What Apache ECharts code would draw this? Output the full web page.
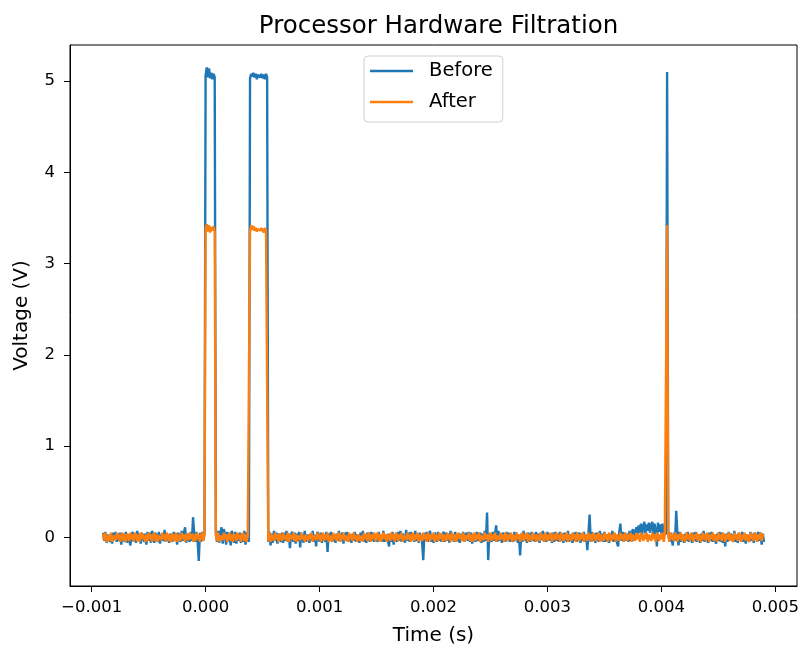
<!DOCTYPE html>
<html>
<head>
<meta charset="utf-8">
<script src="https://cdn.jsdelivr.net/npm/echarts@6/dist/echarts.min.js"></script>
<style>
  html, body { margin: 0; padding: 0; background: #fff; }
  #chart { width: 804px; height: 650px; }
</style>
</head>
<body>
<div id="chart"></div>
<script>
// Scope capture: one sample every 10 µs starting at -0.9 ms
const timeStart = -0.0009;
const samplePeriod = 0.00001;

// Raw signal (V), 20 samples per row
const beforeVolts = [
  0.05,-0.04,0.06,-0.06,0.03,0.05,-0.05,0.04,-0.07,0.05,-0.03,0.06,-0.05,0.04,-0.04,0.05,-0.08,0.04,0.03,-0.05,
  0.06,-0.06,0.03,0.05,-0.09,0.02,0.06,-0.05,0.04,-0.06,0.07,-0.03,0.04,-0.07,0.05,0.03,-0.05,0.04,-0.08,0.06,
  -0.04,0.05,-0.06,0.07,0.02,-0.06,0.05,0.04,-0.05,0.06,-0.07,0.03,0.05,-0.04,0.08,-0.05,0.03,0.05,-0.06,0.04,
  0.05,-0.05,0.06,-0.03,0.04,-0.08,0.05,0.03,-0.05,0.07,-0.04,0.05,0.11,-0.06,0.04,0.05,-0.05,0.06,-0.04,0.22,
  0.03,-0.05,0.06,-0.04,-0.26,0.05,-0.05,0.06,-0.03,0.04,5.06,5.15,5.04,5.14,5.03,5.09,5.02,5.08,5.04,0.05,
  -0.05,0.07,-0.06,0.05,0.11,-0.07,0.09,0.03,-0.08,0.06,-0.05,0.05,-0.09,0.07,0.02,-0.06,0.06,-0.07,0.04,-0.04,
  0.05,-0.06,0.04,-0.05,0.07,-0.08,0.05,0.03,-0.05,5.03,5.08,5.05,5.09,5.04,5.08,5.02,5.07,5.09,5.04,5.08,
  5.03,5.07,5.02,5.08,5.04,-0.05,0.06,-0.09,0.04,-0.06,0.07,-0.04,0.05,-0.07,0.04,0.06,-0.05,0.05,-0.06,0.05,
  -0.04,0.07,-0.05,0.04,-0.12,0.03,0.06,-0.05,0.05,-0.07,0.04,-0.04,0.06,-0.11,0.05,0.03,-0.06,0.07,-0.05,0.03,
  0.05,-0.06,0.04,-0.04,0.07,-0.05,0.03,-0.10,0.06,0.02,-0.05,0.05,-0.06,0.04,0.03,-0.05,0.06,-0.16,0.04,-0.04,
  0.06,-0.05,0.03,0.05,-0.06,0.04,-0.04,0.07,-0.05,0.02,0.05,-0.07,0.05,-0.04,0.06,-0.05,0.03,0.05,-0.06,0.04,
  -0.04,0.06,-0.05,0.03,0.05,-0.06,0.05,-0.03,0.07,-0.05,0.03,-0.06,0.05,0.02,-0.05,0.06,-0.04,0.05,-0.05,0.03,
  0.05,-0.05,0.06,-0.04,0.02,-0.05,0.07,-0.05,0.03,0.05,-0.04,-0.10,0.04,-0.05,0.06,-0.08,0.03,0.05,-0.05,0.06,
  -0.04,0.07,-0.05,0.04,0.02,-0.06,0.08,-0.04,0.05,-0.05,0.06,-0.03,0.04,-0.05,0.07,-0.04,0.03,-0.06,0.05,0.04,
  -0.05,-0.25,0.05,-0.04,0.06,-0.05,0.04,0.07,-0.05,0.03,-0.06,0.05,0.02,-0.05,0.06,-0.04,0.04,-0.05,0.03,0.06,
  -0.05,0.05,-0.04,0.04,-0.06,0.07,-0.03,0.03,-0.05,0.06,-0.05,0.03,0.05,-0.06,0.04,-0.04,0.06,-0.05,0.02,0.05,
  -0.04,0.06,-0.05,0.05,-0.07,0.03,0.04,-0.05,0.06,-0.04,0.02,0.05,-0.06,0.04,-0.05,0.07,-0.04,0.27,-0.25,0.04,
  0.05,-0.05,0.06,-0.04,0.04,0.13,-0.05,0.07,-0.04,0.04,-0.06,0.05,0.02,-0.05,0.06,-0.04,0.05,-0.05,0.03,0.04,
  -0.05,0.06,-0.04,0.05,-0.06,0.03,-0.20,0.04,-0.05,0.07,-0.04,0.04,-0.06,0.05,0.02,-0.05,0.06,-0.04,0.04,-0.05,
  0.06,-0.04,0.04,-0.06,0.05,-0.03,0.07,-0.05,0.03,-0.05,0.06,-0.04,0.04,0.02,-0.06,0.05,-0.05,0.06,-0.04,0.04,
  -0.05,0.06,-0.04,0.04,-0.06,0.05,0.03,-0.05,0.07,-0.05,0.03,0.04,-0.06,0.05,-0.04,0.06,-0.05,0.02,0.05,-0.06,
  0.04,-0.04,0.06,-0.05,0.03,-0.14,0.05,0.25,-0.05,0.06,-0.04,0.04,-0.06,0.05,0.02,-0.05,0.07,-0.04,0.04,-0.05,
  0.06,-0.05,0.03,0.05,-0.06,0.04,-0.04,0.07,-0.05,0.03,0.04,-0.06,-0.10,0.05,0.15,-0.04,0.06,-0.05,0.05,-0.04,
  0.04,-0.05,0.07,-0.04,0.05,0.09,-0.04,0.06,0.11,0.03,0.13,0.05,0.15,0.02,0.12,0.17,0.04,0.14,0.07,0.16,
  0.05,0.13,0.17,0.03,0.15,0.08,-0.10,0.16,0.06,0.14,0.04,0.15,0.02,0.06,0.03,5.10,0.06,-0.05,0.05,0.03,
  -0.09,0.05,-0.04,0.29,0.04,-0.09,0.06,-0.05,0.03,0.05,-0.06,0.04,-0.04,0.06,-0.05,0.03,0.04,-0.06,0.05,-0.04,
  0.06,-0.05,0.03,0.05,-0.06,0.04,-0.04,0.07,-0.05,0.02,0.04,-0.06,0.05,-0.04,0.06,-0.05,0.03,0.05,-0.07,0.04,
  -0.04,0.06,-0.05,0.05,-0.06,0.03,-0.10,0.04,-0.05,0.06,-0.04,0.04,0.02,-0.05,0.07,-0.05,0.03,-0.06,0.05,0.04,
  -0.04,0.06,-0.05,0.04,-0.07,0.03,0.05,-0.05,0.06,-0.04,0.04,-0.06,0.05,0.02,-0.05,0.06,-0.04,0.05,-0.08,0.04,
  -0.05
];

// Filtered signal (V), same time base
const afterVolts = [
  0.04,-0.03,0.05,-0.05,0.02,0.04,-0.04,0.05,-0.05,0.02,0.04,-0.03,0.05,-0.02,0.03,-0.05,0.02,0.05,-0.04,0.03,
  -0.05,0.04,0.02,-0.04,0.05,-0.02,0.03,-0.05,0.05,0.02,-0.04,0.03,-0.05,0.05,-0.02,0.04,0.02,-0.05,0.03,-0.04,
  0.05,-0.02,0.03,-0.05,0.02,0.05,-0.04,0.03,-0.05,0.02,0.04,-0.03,0.05,-0.02,0.03,-0.05,0.05,0.02,-0.04,0.03,
  -0.05,0.04,0.02,-0.04,0.05,-0.05,0.03,0.02,-0.04,0.05,-0.02,0.03,-0.05,0.04,0.02,-0.03,0.05,-0.02,0.04,-0.05,
  0.03,-0.04,0.05,-0.02,0.03,-0.05,0.02,0.05,-0.04,0.03,3.37,3.43,3.35,3.42,3.34,3.40,3.36,3.41,3.35,0.03,
  -0.04,0.05,-0.05,0.02,0.04,-0.03,0.05,-0.02,0.03,-0.05,0.02,0.05,-0.04,0.03,-0.05,0.04,0.02,-0.04,0.05,-0.02,
  0.03,-0.05,0.02,0.05,-0.04,0.03,-0.05,0.02,0.04,3.35,3.42,3.37,3.41,3.36,3.39,3.35,3.38,3.40,3.36,3.39,
  3.37,3.34,3.39,3.36,3.34,-0.04,0.05,-0.05,0.03,0.02,-0.04,0.05,-0.02,0.03,-0.05,0.04,0.02,-0.04,0.05,-0.02,
  0.02,-0.04,0.05,-0.05,0.03,0.02,-0.02,0.05,-0.04,0.03,-0.05,0.02,0.04,-0.03,0.05,-0.02,0.02,-0.05,0.03,0.05,
  -0.04,0.03,-0.02,0.05,-0.05,0.02,0.04,-0.03,0.05,-0.02,0.03,-0.05,0.02,0.05,-0.04,0.03,-0.02,0.05,-0.05,0.02,
  0.04,-0.05,0.05,-0.02,0.03,-0.04,0.02,0.05,-0.05,0.03,-0.02,0.05,-0.04,0.02,0.04,-0.05,0.05,-0.02,0.03,-0.04,
  0.05,-0.02,0.02,-0.05,0.03,0.05,-0.04,0.02,-0.05,0.05,-0.02,0.03,-0.04,0.05,0.02,-0.05,0.03,-0.02,0.05,-0.04,
  0.02,0.05,-0.04,0.03,-0.05,0.02,0.05,-0.02,0.03,-0.05,0.04,0.02,-0.04,0.05,-0.02,0.03,-0.05,0.05,0.02,-0.04,
  0.03,-0.02,0.05,-0.05,0.02,0.04,-0.03,0.05,-0.02,0.03,-0.05,0.02,0.05,-0.04,0.03,-0.02,0.05,-0.05,0.03,0.02,
  -0.04,0.05,-0.02,0.03,-0.05,0.05,0.02,-0.04,0.03,-0.02,0.05,-0.05,0.03,0.02,-0.04,0.05,-0.02,0.04,-0.05,0.03,
  0.02,-0.04,0.05,-0.02,0.03,-0.05,0.05,0.02,-0.04,0.03,-0.05,0.02,0.05,-0.02,0.03,-0.04,0.05,-0.05,0.02,0.04,
  -0.02,0.05,-0.04,0.03,-0.05,0.02,0.05,-0.04,0.03,-0.02,0.05,-0.05,0.02,0.04,-0.03,0.05,-0.02,0.03,-0.05,0.02,
  0.05,-0.04,0.03,-0.02,0.05,-0.05,0.02,0.04,-0.03,0.05,-0.02,0.03,-0.05,0.05,0.02,-0.04,0.03,-0.02,0.05,-0.05,
  0.03,0.02,-0.04,0.05,-0.02,0.03,-0.05,0.02,0.05,-0.04,0.03,-0.02,0.05,-0.05,0.03,0.02,-0.04,0.05,-0.02,0.03,
  -0.05,0.03,0.02,-0.04,0.05,-0.02,0.03,-0.05,0.05,0.02,-0.04,0.03,-0.02,0.05,-0.05,0.04,0.02,-0.03,0.05,-0.02,
  0.03,-0.05,0.05,0.02,-0.04,0.03,-0.02,0.05,-0.05,0.03,0.02,-0.04,0.05,-0.02,0.03,-0.05,0.05,0.02,-0.04,0.03,
  -0.02,0.05,-0.05,0.03,0.02,-0.04,0.05,-0.02,0.03,-0.05,0.05,0.02,-0.04,0.03,-0.02,0.05,-0.05,0.03,0.02,-0.04,
  0.05,-0.02,0.03,-0.05,0.05,0.02,-0.04,0.03,-0.02,0.05,-0.05,0.03,0.02,-0.04,0.05,-0.02,0.03,-0.05,0.05,0.02,
  -0.04,0.03,-0.02,0.05,-0.05,0.03,0.02,-0.04,0.05,-0.02,0.03,-0.05,0.05,0.02,-0.04,0.03,-0.02,0.05,-0.05,0.03,
  0.02,-0.04,0.05,-0.02,0.03,-0.05,0.05,0.02,-0.04,0.03,-0.02,0.05,-0.05,0.03,0.02,3.42,0.03,-0.05,0.05,-0.02,
  0.03,-0.04,0.05,0.02,-0.05,0.03,-0.02,0.05,-0.04,0.03,0.02,-0.05,0.05,-0.02,0.03,-0.04,0.05,0.02,-0.05,0.03,
  -0.02,0.05,-0.04,0.03,0.02,-0.05,0.05,-0.02,0.03,-0.04,0.05,0.02,-0.05,0.03,-0.02,0.05,-0.04,0.03,0.02,-0.05,
  0.05,-0.02,0.03,-0.04,0.05,0.02,-0.05,0.03,-0.02,0.05,-0.04,0.03,0.02,-0.05,0.05,-0.02,0.03,-0.04,0.05,0.02,
  -0.05,0.03,-0.02,0.05,-0.04,0.03,0.02,-0.05,0.05,-0.02,0.03,-0.04,0.05,0.02,-0.05,0.03,-0.02,0.05,-0.04,0.03,
  0.02
];

const seriesNames = ['Before', 'After'];
const seriesColors = ['#1f77b4', '#ff7f0e'];
const xTickValues = [-0.001, 0, 0.001, 0.002, 0.003, 0.004, 0.005];
const yTickValues = [0, 1, 2, 3, 4, 5];

const toPoints = vals => vals.map((v, i) => [timeStart + i * samplePeriod, v]);
const FONT = 'DejaVu Sans';
const minusSign = '\u2212';

const chart = echarts.init(document.getElementById('chart'), null, { renderer: 'canvas' });

chart.setOption({
  animation: false,
  backgroundColor: '#fff',
  title: {
    text: 'Processor Hardware Filtration',
    left: 433.5,
    top: 9,
    textAlign: 'center',
    textStyle: { fontFamily: FONT, fontSize: 24.5, fontWeight: 'normal', color: '#000' }
  },
  legend: {
    orient: 'vertical',
    left: 364,
    top: 56,
    data: seriesNames,
    icon: 'rect',
    itemWidth: 43,
    itemHeight: 2.4,
    itemGap: 11,
    padding: [5, 10, 10, 6],
    backgroundColor: '#fff',
    borderColor: '#d0d0d0',
    borderWidth: 1,
    borderRadius: 4,
    textStyle: { fontFamily: FONT, fontSize: 19.5, lineHeight: 20, color: '#000', padding: [0, 0, 0, 11] }
  },
  grid: {
    left: 70, right: 7, top: 45, bottom: 64,
    show: true, borderColor: '#000', borderWidth: 1,
    containLabel: false, outerBoundsMode: 'none'
  },
  xAxis: {
    type: 'value',
    min: -0.00119,
    max: 0.00519,
    name: 'Time (s)',
    nameLocation: 'middle',
    nameGap: 40,
    nameTextStyle: { fontFamily: FONT, fontSize: 20, color: '#000' },
    axisLine: { onZero: false, lineStyle: { color: '#000', width: 1 } },
    axisTick: { customValues: xTickValues, length: 6, lineStyle: { color: '#000', width: 1 } },
    axisLabel: {
      customValues: xTickValues,
      margin: 13,
      fontFamily: FONT, fontSize: 16.5, color: '#000',
      formatter: v => (v < 0 ? minusSign : '') + Math.abs(v).toFixed(3)
    },
    splitLine: { show: false }
  },
  yAxis: {
    type: 'value',
    min: -0.534,
    max: 5.395,
    name: 'Voltage (V)',
    nameLocation: 'middle',
    nameGap: 38,
    nameTextStyle: { fontFamily: FONT, fontSize: 20, color: '#000' },
    axisLine: { onZero: false, lineStyle: { color: '#000', width: 1 } },
    axisTick: { customValues: yTickValues, length: 6, lineStyle: { color: '#000', width: 1 } },
    axisLabel: {
      customValues: yTickValues,
      margin: 15,
      fontFamily: FONT, fontSize: 16.5, color: '#000',
      formatter: v => String(Math.round(v))
    },
    splitLine: { show: false }
  },
  series: [
    {
      name: seriesNames[0],
      type: 'line',
      data: toPoints(beforeVolts),
      symbol: 'none',
      lineStyle: { width: 2.4, color: seriesColors[0] },
      itemStyle: { color: seriesColors[0] },
      z: 2
    },
    {
      name: seriesNames[1],
      type: 'line',
      data: toPoints(afterVolts),
      symbol: 'none',
      lineStyle: { width: 2.4, color: seriesColors[1] },
      itemStyle: { color: seriesColors[1] },
      z: 3
    }
  ]
});
</script>
</body>
</html>
